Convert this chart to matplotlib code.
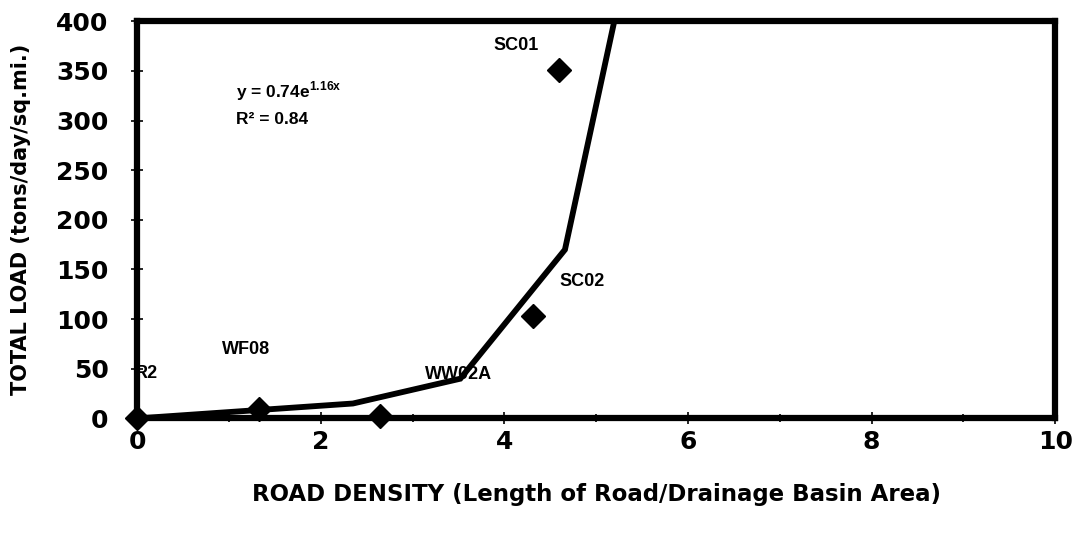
import matplotlib.pyplot as plt
from matplotlib.ticker import MultipleLocator

# observed sites (road density vs total load)
site_names = ["R2", "WF08", "WW02A", "SC02", "SC01"]
road_density = [0.0, 1.33, 2.64, 4.31, 4.59]
total_load = [0.0, 9.0, 2.0, 103.0, 351.0]

# trend line as drawn in the figure
trend_x = [0.0, 2.35, 3.52, 4.66, 5.30]
trend_y = [0.0, 15.0, 40.0, 170.0, 444.0]

equation = "y = 0.74e$^{\\mathbf{1.16x}}$"
r_squared = "R² = 0.84"

# where each site label sits (data coords)
LABEL_POS = {
    "R2": (-0.03, 45),
    "WF08": (1.19, 69),
    "WW02A": (3.50, 44),
    "SC02": (4.85, 138),
    "SC01": (4.13, 376),
}

plt.rcParams["font.family"] = ["Liberation Sans", "DejaVu Sans"]
plt.rcParams["mathtext.fontset"] = "custom"
plt.rcParams["mathtext.bf"] = "Liberation Sans:bold"

fig = plt.figure(figsize=(10.8, 5.33), dpi=100)
ax = fig.add_axes((0.127, 0.215, 0.850, 0.745))

ax.plot(trend_x, trend_y, color="black", linewidth=4.2, zorder=2,
        solid_joinstyle="miter")
ax.plot(road_density, total_load, linestyle="none", marker="D", markersize=12,
        color="black", zorder=4, clip_on=False)

for name in site_names:
    x, y = LABEL_POS[name]
    ha = "left" if name == "R2" else "center"
    ax.text(x, y, name, fontsize=13, fontweight="bold", ha=ha, va="center",
            zorder=1)

ax.text(1.08, 330, equation, fontsize=12.5, fontweight="bold", va="center")
ax.text(1.08, 301, r_squared, fontsize=12.5, fontweight="bold", va="center")

ax.set_xlim(0, 10)
ax.set_ylim(0, 400)
ax.xaxis.set_major_locator(MultipleLocator(2))
ax.xaxis.set_minor_locator(MultipleLocator(1))
ax.yaxis.set_major_locator(MultipleLocator(50))

for side in ("left", "right", "top", "bottom"):
    ax.spines[side].set_linewidth(4.5)
    ax.spines[side].set_zorder(3)

ax.tick_params(axis="both", which="major", direction="inout", length=9,
               width=1.2, labelsize=18)
ax.tick_params(axis="x", which="minor", direction="inout", length=6, width=1.2)
ax.tick_params(axis="x", pad=4)
ax.tick_params(axis="y", pad=16)
for lbl in ax.get_xticklabels() + ax.get_yticklabels():
    lbl.set_fontweight("bold")
    lbl.set_family("DejaVu Sans")

ax.set_xlabel("ROAD DENSITY (Length of Road/Drainage Basin Area)",
              fontsize=16.5, fontweight="bold", family="DejaVu Sans",
              labelpad=21)
ax.set_ylabel("TOTAL LOAD (tons/day/sq.mi.)", fontsize=15,
              fontweight="bold", family="DejaVu Sans", labelpad=18)

fig.savefig("out.png", dpi=100)
plt.close(fig)
